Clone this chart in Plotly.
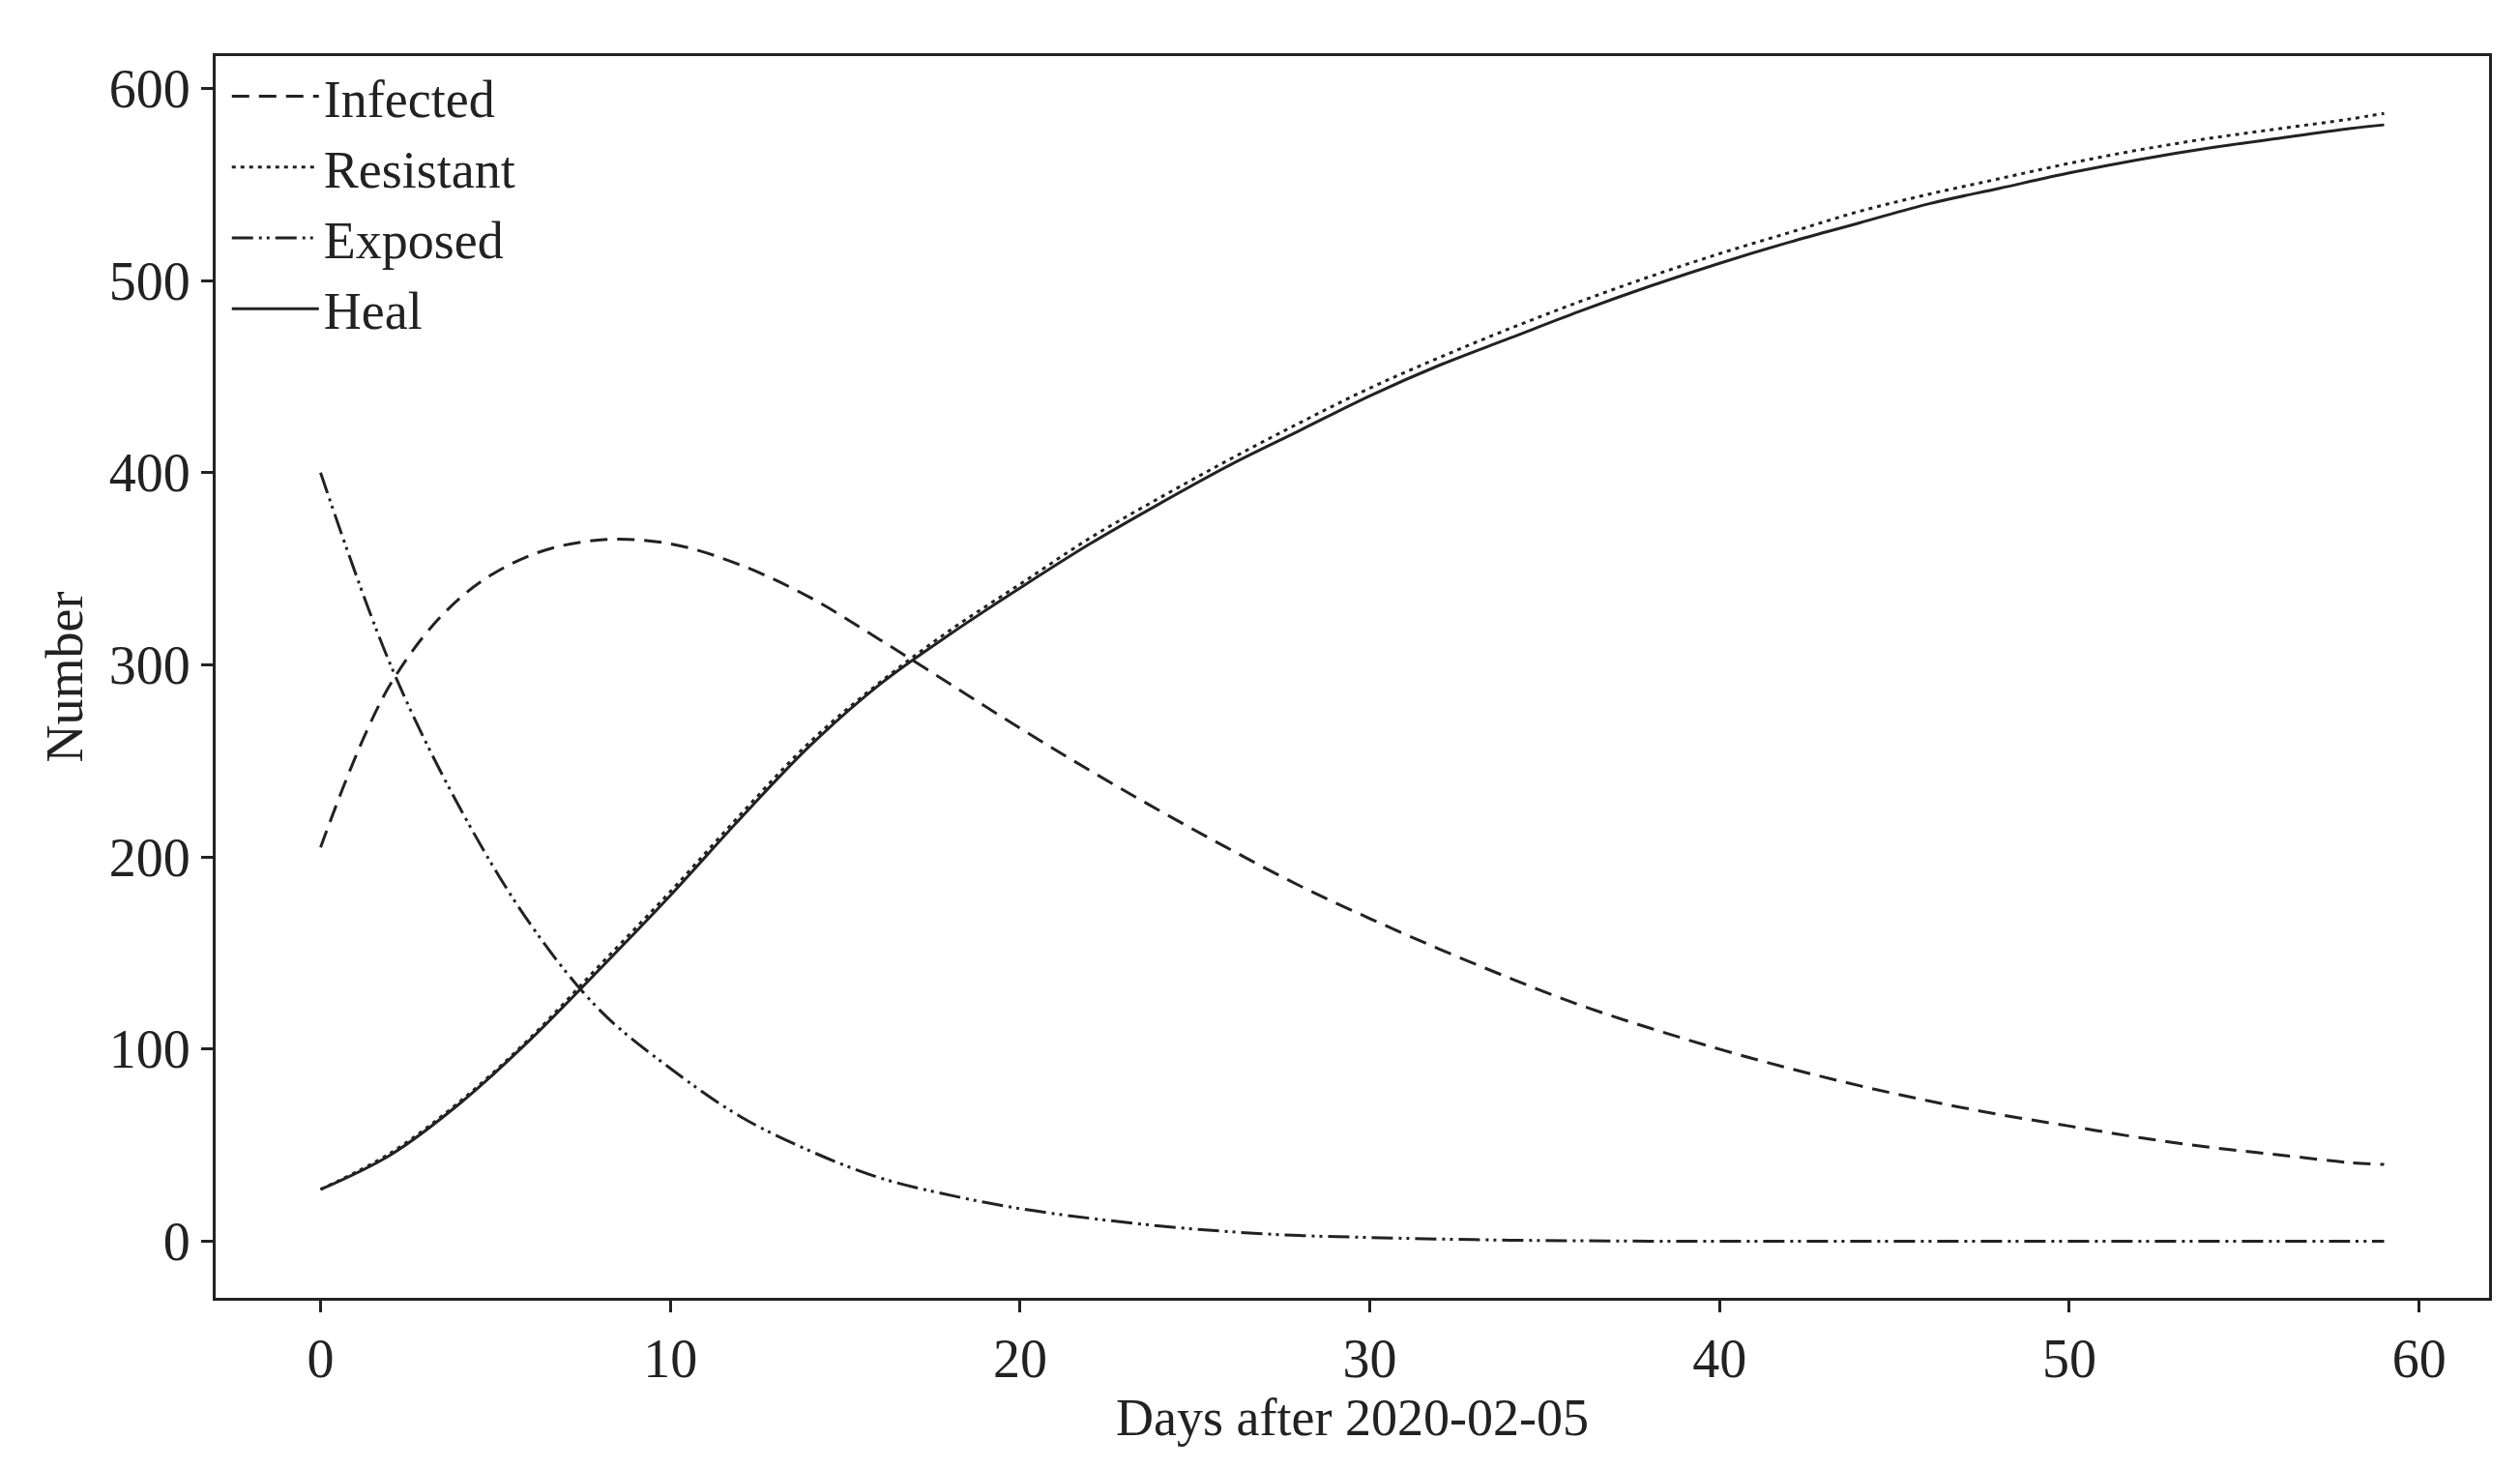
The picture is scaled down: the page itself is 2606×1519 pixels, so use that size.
import plotly.graph_objects as go

days = [0,2,4,6,8,10,12,14,16,18,20,22,24,26,28,30,32,34,36,38,40,42,44,46,48,50,52,54,56,58,59]
infected = [205,290,335,357,365,363,352,335,313,290,267,245,224,204,185,168,152,137,123,111,100,90,81,73,66,60,54,49,45,41,40]
resistant = [27,46,73,106,144,182,222,260,291,318,342,366,387,407,426,444,460,475,489,502,514,525,536,545,553,561,568,574,579,584,587]
exposed = [400,300,225,165,120,90,65,47,33,24,17,12,8,5,3,2,1.2,0.6,0.3,0.1,0,0,0,0,0,0,0,0,0,0,0]
heal = [27,45,72,105,142,180,220,258,290,316,340,363,384,404,422,440,456,470,484,497,509,520,530,540,548,556,563,569,574,579,581]
xticks = [0,10,20,30,40,50,60]
yticks = [0,100,200,300,400,500,600]

fig = go.Figure()
c = "#222"
for name, y, dash in [("Infected", infected, "18px,10px"),
                      ("Resistant", resistant, "4px,5px"),
                      ("Exposed", exposed, "22px,6px,3px,5px,3px,6px"),
                      ("Heal", heal, "solid")]:
    fig.add_trace(go.Scatter(x=days, y=y, name=name, mode="lines",
                             line=dict(color=c, width=3, dash=dash, shape="spline")))

fig.update_layout(
    width=2606, height=1519, paper_bgcolor="white", plot_bgcolor="white",
    margin=dict(l=215, r=40, t=50, b=185),
    font=dict(family="Liberation Serif", size=56, color="#222"),
    showlegend=True,
    legend=dict(x=0.005, y=1.0, xanchor="left", yanchor="top", bgcolor="rgba(0,0,0,0)",
                font=dict(size=54), tracegroupgap=0, itemwidth=90),
    xaxis=dict(range=[-3, 62], tickvals=xticks, showgrid=False, zeroline=False,
               showline=True, linecolor=c, linewidth=3, mirror=True,
               ticks="outside", ticklen=12, tickwidth=3, tickcolor=c,
               title=dict(text="Days after 2020-02-05", standoff=5, font=dict(size=54))),
    yaxis=dict(range=[-29.4, 616.8], tickvals=yticks, showgrid=False, zeroline=False,
               showline=True, linecolor=c, linewidth=3, mirror=True,
               ticks="outside", ticklen=12, tickwidth=3, tickcolor=c,
               title=dict(text="Number", standoff=10, font=dict(size=54))),
)
fig.write_html("out.html")
